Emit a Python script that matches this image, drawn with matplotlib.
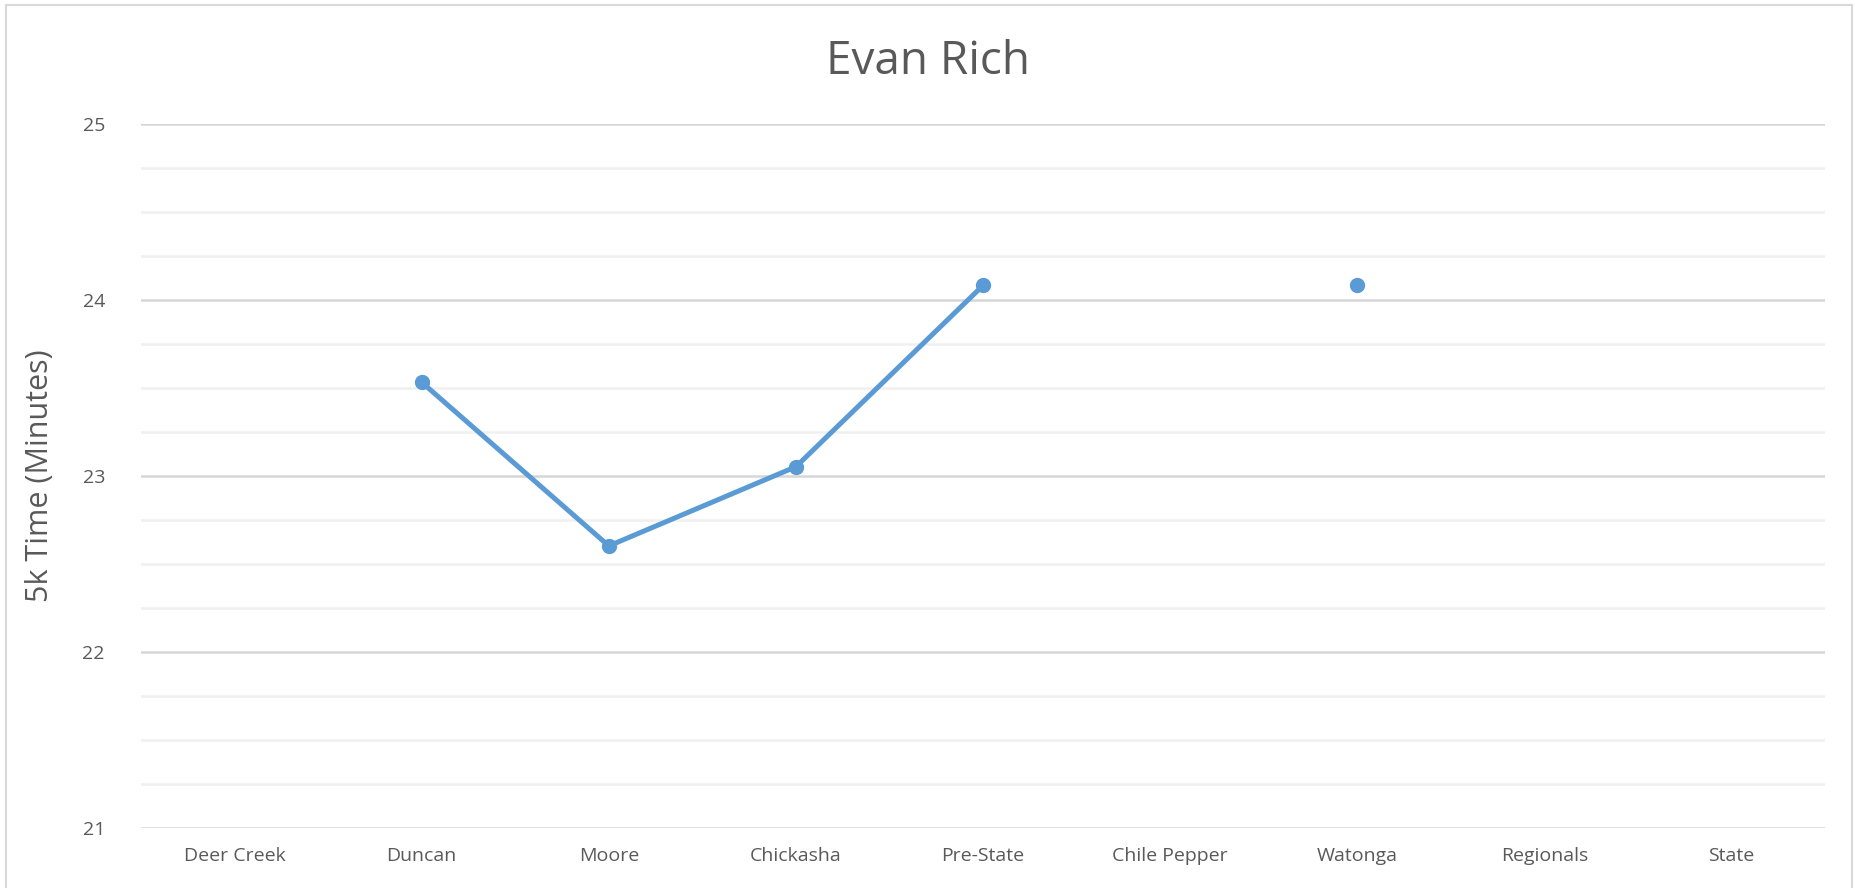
import numpy as np
import matplotlib
matplotlib.use('Agg')
import matplotlib.pyplot as plt
from matplotlib.ticker import MultipleLocator
from matplotlib.patches import Rectangle

# meet names and 5k times (minutes), nan = did not run
meets = ['Deer Creek', 'Duncan', 'Moore', 'Chickasha', 'Pre-State',
         'Chile Pepper', 'Watonga', 'Regionals', 'State']
times = [np.nan, 23.53, 22.60, 23.05, 24.08, np.nan, 24.08, np.nan, np.nan]

title = 'Evan Rich'
ylabel = '5k Time (Minutes)'

plt.rcParams['font.family'] = ['Open Sans', 'DejaVu Sans']

txt_col = '#595959'
line_col = '#5B9BD5'

fig = plt.figure(figsize=[18.56, 8.88], dpi=100)
ax = fig.add_axes([0.076, 0.0681, 0.9073, 0.7928])

x = np.arange(len(meets))
ax.plot(x, times, '-o', color=line_col, linewidth=3.6, markersize=10,
        solid_capstyle='round', zorder=3)

ax.set_xlim(-0.5, len(meets) - 0.5)
ax.set_ylim(21, 25)
ax.yaxis.set_major_locator(MultipleLocator(1))
ax.yaxis.set_minor_locator(MultipleLocator(0.25))
ax.set_xticks(x)
ax.set_xticklabels(meets)

ax.grid(True, which='major', axis='y', color='#d6d6d6', linewidth=1.8)
ax.grid(True, which='minor', axis='y', color='#f0f0f0', linewidth=1.8)
ax.set_axisbelow(True)
for s in ax.spines.values():
    s.set_visible(False)
ax.tick_params(axis='both', which='both', length=0, labelsize=14,
               colors=txt_col)
ax.tick_params(axis='y', pad=26)
ax.tick_params(axis='x', pad=14)

ax.set_ylabel(ylabel, fontsize=22, color=txt_col, labelpad=20)
fig.text(0.5, 0.93, title, ha='center', va='center', fontsize=33,
         color=txt_col)

# outer chart border
fig.patches.append(Rectangle((6 / 1856, -0.02), 1846 / 1856, 1.0 - 5 / 888 + 0.02,
                             transform=fig.transFigure, fill=False,
                             edgecolor='#d9d9d9', linewidth=1.5))

fig.savefig('out.png', dpi=100)
